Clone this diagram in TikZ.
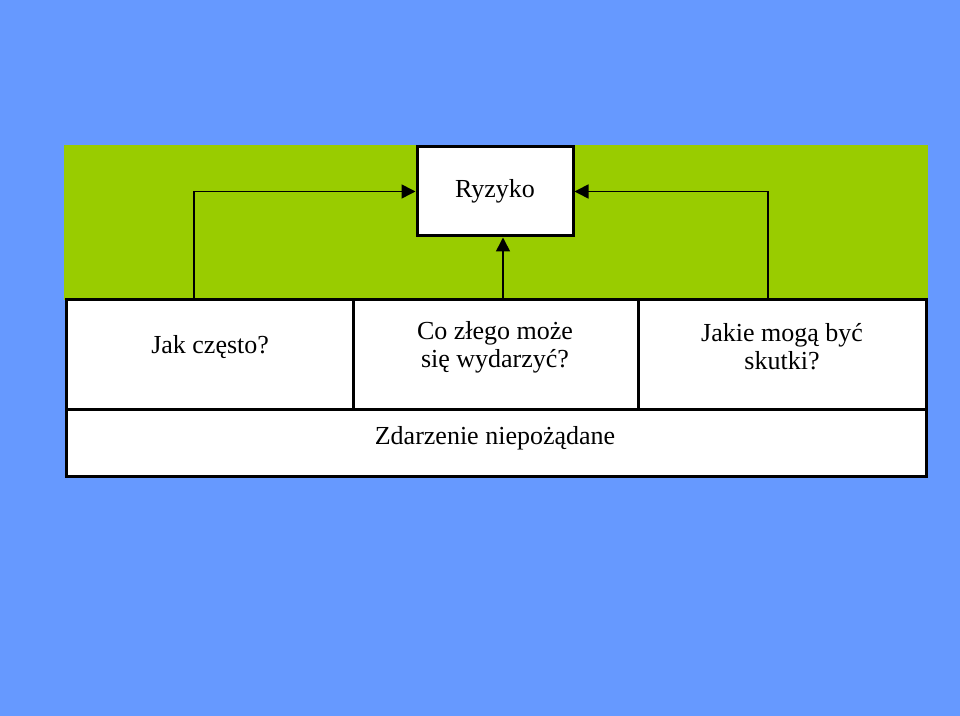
\documentclass[tikz,border=0pt]{standalone}
\usepackage{fontspec}
\setmainfont{Liberation Serif}
\usetikzlibrary{arrows.meta}
\definecolor{tlo}{HTML}{6699FF}
\definecolor{ziel}{HTML}{99CC00}
\tikzset{
  ramka/.style={draw=black,line width=1.5pt,fill=white},
  strz/.style={line width=0.8pt,-{Triangle[length=7pt,width=7pt]}},
  napis/.style={font=\fontsize{13}{14}\selectfont,align=center}
}
\begin{document}
\begin{tikzpicture}[x=0.5pt,y=-0.5pt]
  \fill[tlo] (0,0) rectangle (960,716);
  \fill[ziel] (64,145) rectangle (928,300);
  % dolne pola
  \draw[ramka] (66,300) rectangle (353,410);
  \draw[ramka] (353,300) rectangle (638,410);
  \draw[ramka] (638,300) rectangle (926,410);
  \draw[ramka] (66,410) rectangle (926,477);
  \node[ramka,minimum width=78pt,minimum height=44.5pt] (ryz) at (495,191.5) {};
  \node[napis] at (ryz) {Ryzyko};
  \node[napis,anchor=east] (czest) at (276,347) {Jak często?};
  \node[napis] (co) at (495,347) {Co złego może\\ się wydarzyć?};
  \node[napis] (skut) at (782,347) {Jakie mogą być\\ skutki?};
  \node[napis] (zd) at (495,438) {Zdarzenie niepożądane};
  \coordinate (l) at (194,300);
  \coordinate (p) at (768,300);
  \coordinate (s) at (503,300);
  \draw[strz] (l) |- (ryz.west);
  \draw[strz] (p) |- (ryz.east);
  \draw[strz] (s) -- (s |- ryz.south);
\end{tikzpicture}
\end{document}
